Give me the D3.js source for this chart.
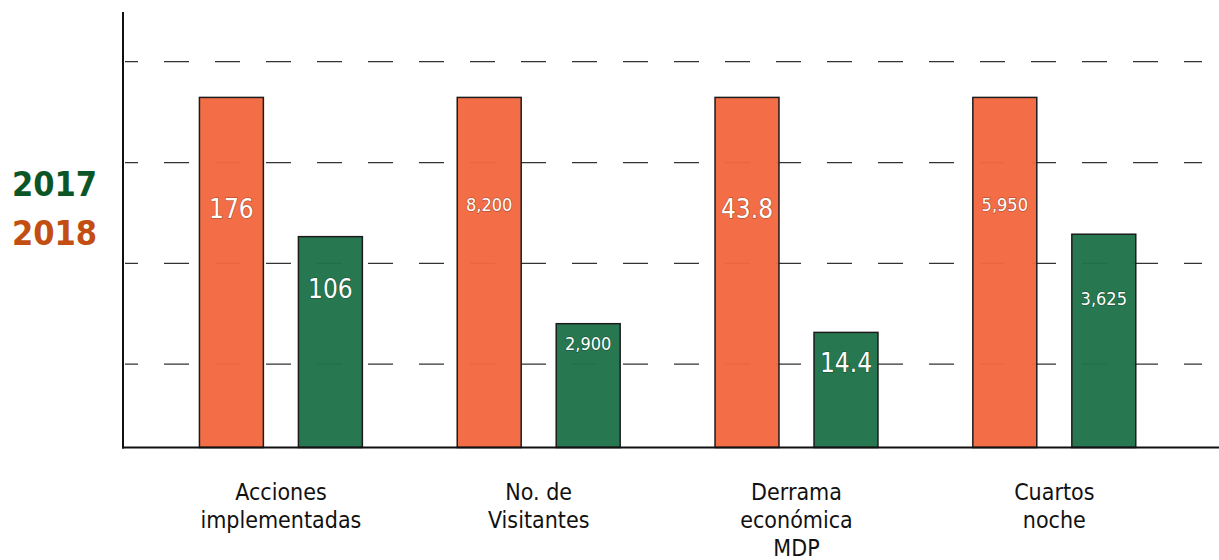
<!DOCTYPE html>
<html>
<head>
<meta charset="utf-8">
<script src="https://cdn.jsdelivr.net/npm/d3@7"></script>
<style>
  html, body { margin: 0; padding: 0; background: #fff; }
  svg { display: block; }
  .val { fill: #fff; text-anchor: middle; dominant-baseline: central; paint-order: stroke; stroke: rgba(0,0,0,0.25); stroke-width: 1.5px; }
  .cat text { font-size: 23px; fill: #111; }
</style>
</head>
<body>
<div id="chart"></div>
<script>
// datos
const categories = ["Acciones implementadas", "No. de Visitantes", "Derrama económica MDP", "Cuartos noche"];
const categoryLines = [["Acciones", "implementadas"], ["No. de", "Visitantes"], ["Derrama", "económica", "MDP"], ["Cuartos", "noche"]];
const values2018 = [176, 8200, 43.8, 5950];
const values2017 = [106, 2900, 14.4, 3625];
const years = ["2018", "2017"];
// las barras van escaladas respecto al valor 2018 de cada categoría
const gridTicks = [0.238, 0.526, 0.814, 1.102];
// posición del texto dentro de la barra (fracción de su altura)
const labelFrac = { "2018": [0.68, 0.695, 0.68, 0.695], "2017": [0.75, 0.84, 0.73, 0.70] };

const colors = { "2018": "#F26840", "2017": "#1E7249" };
const legendColors = { "2017": "#0C5526", "2018": "#C24E12" };
const font = "'Liberation Sans Narrow', 'DejaVu Sans Condensed', Roboto, sans-serif";

const width = 1219, height = 560;
const baseY = 447.5;

const svg = d3.select("#chart").append("svg")
    .attr("width", width)
    .attr("height", height)
    .style("font-family", font);

const x0 = d3.scaleBand()
    .domain(categories)
    .range([152, 1183.2])
    .paddingInner(0.368)
    .paddingOuter(0.184);

const x1 = d3.scaleBand()
    .domain(years)
    .range([0, x0.bandwidth()])
    .paddingInner(0.354);

const y = d3.scaleLinear()
    .domain([0, 1.244])
    .range([baseY, 12]);

// líneas de guía punteadas
svg.append("g").selectAll("line")
    .data(gridTicks)
    .enter().append("line")
    .attr("x1", 125)
    .attr("x2", 1202)
    .attr("y1", d => y(d))
    .attr("y2", d => y(d))
    .attr("stroke", "#333")
    .attr("stroke-width", 1.3)
    .attr("stroke-dasharray", "25,26")
    .attr("stroke-dashoffset", 12);

const rows = categories.map((c, i) => ({
    cat: c,
    i: i,
    bars: [
        { year: "2018", value: values2018[i], ratio: 1 },
        { year: "2017", value: values2017[i], ratio: values2017[i] / values2018[i] }
    ]
}));

const fmt = v => Number.isInteger(v) ? d3.format(",")(v) : d3.format(".1f")(v);

const group = svg.append("g").selectAll(".grp")
    .data(rows)
    .enter().append("g")
    .attr("class", "grp")
    .attr("transform", d => `translate(${x0(d.cat)},0)`);

group.selectAll("rect")
    .data(d => d.bars)
    .enter().append("rect")
    .attr("x", d => x1(d.year))
    .attr("width", x1.bandwidth())
    .attr("y", d => y(d.ratio))
    .attr("height", d => baseY - y(d.ratio))
    .attr("fill", d => colors[d.year])
    .attr("fill-opacity", 0.96)
    .attr("stroke", "#1c1c1c")
    .attr("stroke-width", 1.5);

group.selectAll("text.val")
    .data(d => d.bars.map(b => Object.assign({ i: d.i }, b)))
    .enter().append("text")
    .attr("class", "val")
    .attr("x", d => x1(d.year) + x1.bandwidth() / 2)
    .attr("y", d => y(d.ratio * labelFrac[d.year][d.i]))
    .style("font-size", d => fmt(d.value).length > 4 ? "18px" : "26px")
    .text(d => fmt(d.value));

// ejes
svg.append("line")
    .attr("x1", 123).attr("x2", 123)
    .attr("y1", 12).attr("y2", baseY + 1)
    .attr("stroke", "#111").attr("stroke-width", 2);

svg.append("line")
    .attr("x1", 122).attr("x2", width)
    .attr("y1", baseY).attr("y2", baseY)
    .attr("stroke", "#111").attr("stroke-width", 2);

// etiquetas de categoría
const xAxis = svg.append("g")
    .attr("class", "cat")
    .attr("transform", `translate(0,${baseY})`)
    .call(d3.axisBottom(x0).tickSize(0).tickFormat(""));
xAxis.select(".domain").remove();

xAxis.selectAll(".tick").each(function (d, i) {
    const t = d3.select(this).append("text")
        .attr("text-anchor", "middle")
        .style("font-family", font);
    categoryLines[i].forEach((line, k) => {
        t.append("tspan")
            .attr("x", 0)
            .attr("y", 52 + k * 28)
            .text(line);
    });
});

// leyenda
const legend = svg.append("g");
["2017", "2018"].forEach((yr, k) => {
    legend.append("text")
        .attr("x", 12)
        .attr("y", 196 + k * 49)
        .style("font-size", "34px")
        .style("font-weight", "bold")
        .attr("fill", legendColors[yr])
        .text(yr);
});
</script>
</body>
</html>
